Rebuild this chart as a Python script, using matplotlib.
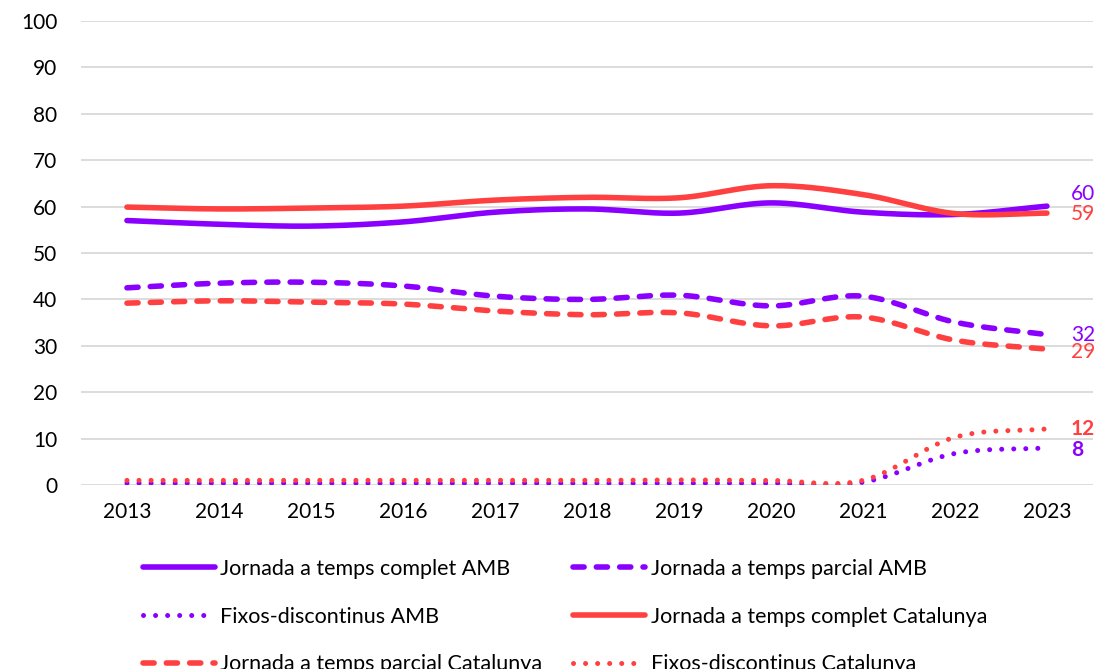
import numpy as np
import matplotlib.pyplot as plt

# ===============================
# Data
# ===============================
years = [2013, 2014, 2015, 2016, 2017, 2018, 2019, 2020, 2021, 2022, 2023]

complet_amb = [57.0, 56.2, 55.8, 56.7, 58.8, 59.5, 58.6, 60.8, 58.8, 58.3, 60.1]
parcial_amb = [42.5, 43.5, 43.7, 42.9, 40.7, 40.0, 40.9, 38.6, 40.7, 35.1, 32.4]
fixos_amb = [0.4, 0.4, 0.4, 0.4, 0.4, 0.4, 0.4, 0.4, 0.6, 6.8, 8.0]

complet_cat = [59.9, 59.5, 59.7, 60.1, 61.4, 62.0, 61.9, 64.5, 62.6, 58.5, 58.6]
parcial_cat = [39.2, 39.7, 39.4, 39.0, 37.5, 36.7, 37.1, 34.3, 36.2, 31.2, 29.3]
fixos_cat = [1.0, 1.0, 1.0, 1.0, 1.0, 1.0, 1.1, 1.0, 1.0, 10.3, 12.1]

end_labels = ['60', '32', '8', '59', '29', '12']

PURPLE = '#8A00FF'
RED = '#FF4040'


def smooth(xs, ys, n=30):
    # Catmull-Rom style smoothing, similar to Excel "smoothed line"
    xs = np.asarray(xs, float)
    ys = np.asarray(ys, float)
    px = np.concatenate([[2 * xs[0] - xs[1]], xs, [2 * xs[-1] - xs[-2]]])
    py = np.concatenate([[2 * ys[0] - ys[1]], ys, [2 * ys[-1] - ys[-2]]])
    out_x, out_y = [], []
    for i in range(1, len(px) - 2):
        t = np.linspace(0, 1, n, endpoint=False)
        for arr, out in ((px, out_x), (py, out_y)):
            p0, p1, p2, p3 = arr[i - 1], arr[i], arr[i + 1], arr[i + 2]
            out.extend(0.5 * ((2 * p1) + (-p0 + p2) * t
                              + (2 * p0 - 5 * p1 + 4 * p2 - p3) * t ** 2
                              + (-p0 + 3 * p1 - 3 * p2 + p3) * t ** 3))
    out_x.append(xs[-1])
    out_y.append(ys[-1])
    return np.array(out_x), np.array(out_y)


plt.rcParams['font.family'] = ['Lato', 'DejaVu Sans']

fig = plt.figure(figsize=(10.97, 6.69), dpi=100)
ax = fig.add_axes([0.0738, 0.275, 0.9225, 0.6936])

series = [
    (complet_amb, PURPLE, 'solid', 'Jornada a temps complet AMB'),
    (parcial_amb, PURPLE, 'dashed', 'Jornada a temps parcial AMB'),
    (fixos_amb, PURPLE, 'dotted', 'Fixos-discontinus AMB'),
    (complet_cat, RED, 'solid', 'Jornada a temps complet Catalunya'),
    (parcial_cat, RED, 'dashed', 'Jornada a temps parcial Catalunya'),
    (fixos_cat, RED, 'dotted', 'Fixos-discontinus Catalunya'),
]

handles = []
for vals, color, style, label in series:
    sx, sy = smooth(years, vals)
    if style == 'solid':
        ln, = ax.plot(sx, sy, color=color, lw=4.0, solid_capstyle='round', label=label)
    elif style == 'dashed':
        ln, = ax.plot(sx, sy, color=color, lw=4.0, dashes=(2.0, 2.2),
                      dash_capstyle='round', label=label)
    else:
        ln, = ax.plot(sx, sy, color=color, lw=3.6, dashes=(0.01, 2.4),
                      dash_capstyle='round', label=label)
    handles.append(ln)

# end labels
offsets = [2.7, -0.1, -0.4, -0.1, -0.6, -0.1]
weights = ['normal', 'normal', 'bold', 'normal', 'normal', 'bold']
for (vals, color, style, label), txt, off, w in zip(series, end_labels, offsets, weights):
    ax.text(2023.26, vals[-1] + off, txt, color=color, fontsize=15, fontweight=w,
            va='center', ha='left', clip_on=False)

ax.set_xlim(2012.5, 2023.5)
ax.set_ylim(0, 100)
ax.set_yticks(range(0, 101, 10))
ax.set_xticks(years)
ax.tick_params(axis='both', length=0, labelsize=15)
ax.tick_params(axis='x', pad=12)
ax.tick_params(axis='y', pad=17)
ax.grid(axis='y', color='#d9d9d9', lw=1.3)
ax.set_axisbelow(True)
for sp in ax.spines.values():
    sp.set_visible(False)

order = [0, 2, 4, 1, 3, 5]
fig.legend([handles[i] for i in order], [series[i][3] for i in order],
           loc='upper left', bbox_to_anchor=(0.1126, 0.1934), ncol=2, frameon=False,
           fontsize=15.5, handlelength=3.35, handletextpad=0.25,
           columnspacing=1.42, labelspacing=1.28)

plt.savefig('out.png', dpi=100)
